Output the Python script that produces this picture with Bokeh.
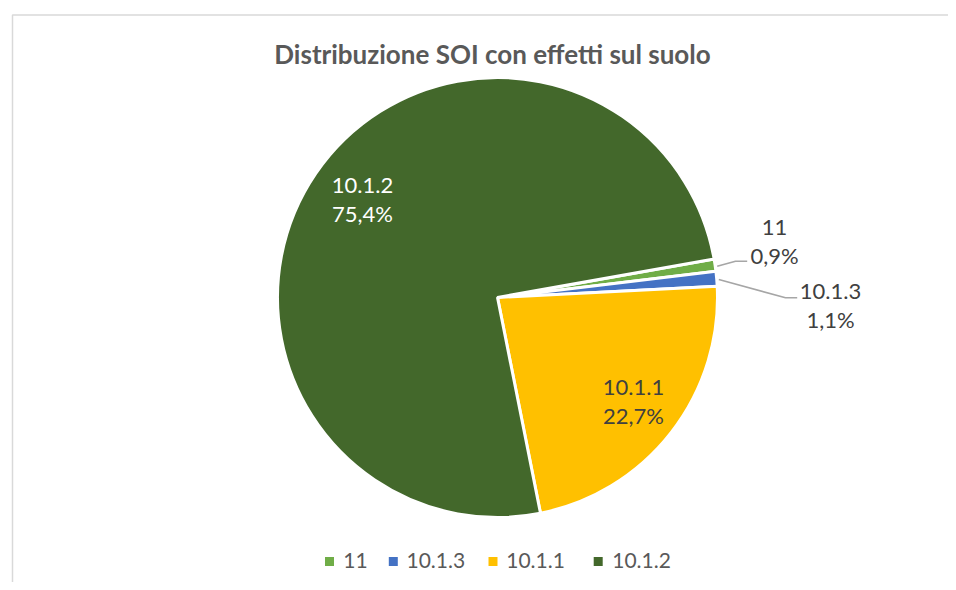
import numpy as np
from bokeh.plotting import figure
from bokeh.models import ColumnDataSource
from bokeh.core.properties import value
from bokeh.embed import file_html
from bokeh.resources import INLINE

# ---- data ----
categories = ["11", "10.1.3", "10.1.1", "10.1.2"]
percents = [0.9, 1.1, 22.7, 75.4]
colors = ["#70AD47", "#4472C4", "#FFC000", "#43682B"]
title_text = "Distribuzione SOI con effetti sul suolo"

W, H = 948, 582
FONT = "Lato"

p = figure(width=W, height=H, x_range=(-8, W - 8), y_range=(8, H + 8),
           output_backend="svg", toolbar_location=None, tools="",
           min_border=0, outline_line_color=None)
p.axis.visible = False
p.grid.visible = False
p.background_fill_color = "white"
p.border_fill_color = "white"

# chart-area border (left and top visible)
p.line([4, 4, W + 20], [0, 575.5, 575.5], line_color="#D9D9D9", line_width=1.5)

# ---- pie ----
cx, cy, r = 489, 293, 220
first_angle = np.deg2rad(10.1)
vals = np.array(percents, dtype=float)
frac = vals / vals.sum()
cum = np.concatenate([[0], np.cumsum(frac)]) * 2 * np.pi
starts = first_angle - cum[1:]
ends = first_angle - cum[:-1]
src = ColumnDataSource(dict(start=starts, end=ends, color=colors, cat=categories))
p.wedge(x=cx, y=cy, radius=r, start_angle="start", end_angle="end",
        fill_color="color", line_color="white", line_width=3, source=src)


def pct_str(v):
    return f"{v:.1f}".replace(".", ",") + "%"


LBL = "22px"
# 10.1.2 (index 3) inside, white
i = 3
p.text(x=[354, 354], y=[405, 377], text=[categories[i], pct_str(percents[i])],
       text_color="white", text_font=value(FONT), text_font_size=LBL,
       text_align="center", text_baseline="middle")
# 10.1.1 (index 2) inside, dark
i = 2
p.text(x=[625, 625], y=[203, 175], text=[categories[i], pct_str(percents[i])],
       text_color="#404040", text_font=value(FONT), text_font_size=LBL,
       text_align="center", text_baseline="middle")

# callouts for the small slices
i = 0
p.line([708.7, 727, 738.7], [324.3, 329.3, 329.3], line_color="#A6A6A6", line_width=1.5)
p.text(x=[766, 766], y=[363, 335], text=[categories[i], pct_str(percents[i])],
       text_color="#404040", text_font=value(FONT), text_font_size=LBL,
       text_align="center", text_baseline="middle")
i = 1
p.line([710.3, 777, 788.7], [311, 292.7, 292.7], line_color="#A6A6A6", line_width=1.5)
p.text(x=[822, 822], y=[299, 271], text=[categories[i], pct_str(percents[i])],
       text_color="#404040", text_font=value(FONT), text_font_size=LBL,
       text_align="center", text_baseline="middle")

# title
p.text(x=[484], y=[537], text=[title_text], text_color="#595959",
       text_font=value(FONT), text_font_style="bold", text_font_size="26px",
       text_align="center", text_baseline="middle")

# legend (manual)
sq_x = [321, 384.8, 484.5, 589.7]
txt_x = [334.7, 398, 497.7, 603.7]
leg_y = 29
p.scatter(x=sq_x, y=[leg_y] * 4, marker="square", size=9, fill_color=colors,
          line_color=None)
p.text(x=txt_x, y=[leg_y + 1] * 4, text=categories, text_color="#595959",
       text_font=value(FONT), text_font_size="21px",
       text_align="left", text_baseline="middle")

open("out.html", "w").write(file_html(p, INLINE))
